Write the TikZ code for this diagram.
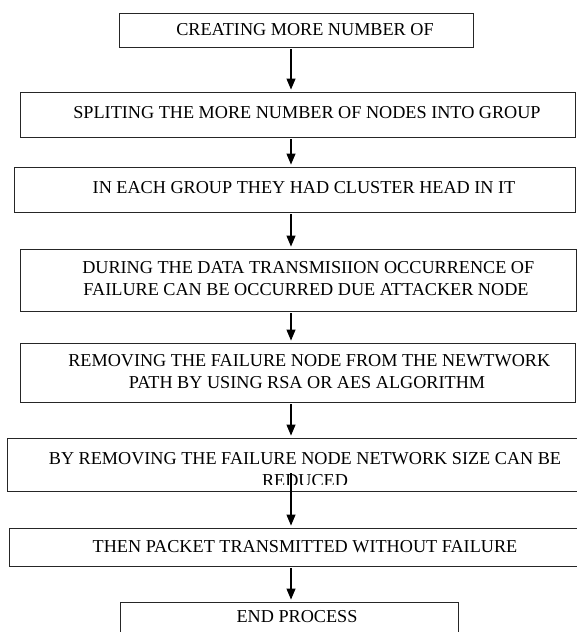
\documentclass[tikz,border=0pt]{standalone}
\usepackage{fontspec}
\setmainfont{Liberation Serif}
\usetikzlibrary{arrows.meta}

\begin{document}
\begin{tikzpicture}[x=1pt,y=-1pt,
  stepbox/.style={draw=black!85, line width=0.9pt, rectangle, inner sep=0pt},
  steptext/.style={inner sep=0pt, align=center, font=\fontsize{18.2}{22}\selectfont},
  arr/.style={-{Triangle[width=9pt,length=11pt]}, line width=1.1pt, shorten <=2pt, shorten >=2pt}]

% page
\clip (0,0) rectangle (577,632);
\fill[white] (0,0) rectangle (577,632);

% step boxes (centre, width, height)
\node[stepbox, minimum width=354pt, minimum height=34pt] (b1) at (296,30) {};
\node[stepbox, minimum width=555pt, minimum height=45pt] (b2) at (297.5,114.5) {};
\node[stepbox, minimum width=561pt, minimum height=45pt] (b3) at (294.5,189.5) {};
\node[stepbox, minimum width=556pt, minimum height=62pt] (b4) at (298,280) {};
\node[stepbox, minimum width=555pt, minimum height=59pt] (b5) at (297.5,372.5) {};
\node[stepbox, minimum width=593pt, minimum height=53pt] (b6) at (303.5,464.5) {};
\node[stepbox, minimum width=591pt, minimum height=38pt] (b7) at (304.5,547) {};
\node[stepbox, minimum width=338pt, minimum height=50pt] (b8) at (289,627) {};

% texts
\node[steptext] (t1) at (305,30) {CREATING MORE NUMBER OF};
\node[steptext] (t2) at (307,113) {SPLITING THE MORE NUMBER OF NODES INTO GROUP};
\node[steptext] (t3) at (304,188) {IN EACH GROUP THEY HAD CLUSTER HEAD IN IT};
\node[steptext] (t4) at (306,279) {\ DURING THE DATA TRANSMISIION OCCURRENCE OF\\FAILURE CAN BE OCCURRED DUE ATTACKER NODE};
\node[steptext] (t5) at (307,372) {\ REMOVING THE FAILURE NODE FROM THE NEWTWORK\\PATH BY USING RSA OR AES ALGORITHM};
% the second line runs past the inner edge of its box and is cut off
\begin{scope}
  \clip (b6.north west) rectangle ([yshift=7pt]b6.south east);
  \node[steptext] (t6) at (305,470) {BY REMOVING THE FAILURE NODE NETWORK SIZE CAN BE\\REDUCED};
\end{scope}
\node[steptext] (t7) at (305,547) {THEN PACKET TRANSMITTED WITHOUT FAILURE};
\node[steptext] (t8) at (297,617) {END PROCESS};

% connectors
\coordinate (ax) at (291,0);
\coordinate (s6) at (291,473);
\draw[arr] (b1.south -| ax) -- (b2.north -| ax);
\draw[arr] (b2.south -| ax) -- (b3.north -| ax);
\draw[arr] (b3.south -| ax) -- (b4.north -| ax);
\draw[arr] (b4.south -| ax) -- (b5.north -| ax);
\draw[arr] (b5.south -| ax) -- (b6.north -| ax);
\draw[arr, shorten <=0pt] (s6) -- (b7.north -| ax);
\draw[arr] (b7.south -| ax) -- (b8.north -| ax);
\end{tikzpicture}
\end{document}
